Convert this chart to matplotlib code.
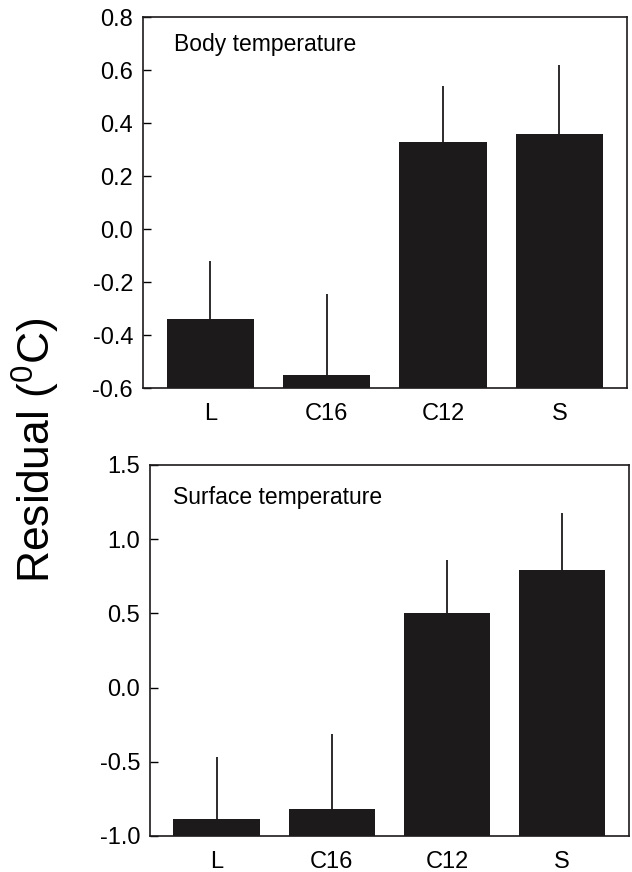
import matplotlib
matplotlib.use("Agg")
import matplotlib.pyplot as plt
import numpy as np

plt.rcParams['font.family'] = ['Liberation Sans', 'DejaVu Sans']
plt.rcParams['mathtext.fontset'] = 'custom'
plt.rcParams['mathtext.rm'] = 'Liberation Sans'
plt.rcParams['mathtext.it'] = 'Liberation Sans'

categories = ["L", "C16", "C12", "S"]

body_values = [-0.34, -0.55, 0.33, 0.36]
body_errors = [0.22, 0.305, 0.21, 0.26]

surface_values = [-0.885, -0.82, 0.50, 0.79]
surface_errors = [0.415, 0.51, 0.36, 0.385]

body_yticks = [-0.6, -0.4, -0.2, 0.0, 0.2, 0.4, 0.6, 0.8]
surface_yticks = [-1.0, -0.5, 0.0, 0.5, 1.0, 1.5]

BAR_COLOR = '#1d1a1b'

fig = plt.figure(figsize=(6.32, 8.72), dpi=100)
ax1 = fig.add_axes([0.226, 0.555, 0.766, 0.4255])
ax2 = fig.add_axes([0.237, 0.0413, 0.758, 0.4255])


def panel(ax, values, errors, yticks, label, lx, ly, fmt):
    base = yticks[0]
    x = np.arange(len(categories))
    vals = np.array(values)
    ax.bar(x, vals - base, bottom=base, width=0.75, color=BAR_COLOR, zorder=2)
    ax.errorbar(x, vals, yerr=[np.zeros(len(vals)), errors], fmt='none',
                ecolor=BAR_COLOR, elinewidth=1.3, capsize=0, zorder=1)
    ax.set_xlim(-0.58, 3.58)
    ax.set_ylim(yticks[0], yticks[-1])
    ax.set_yticks(yticks)
    ax.set_yticklabels([fmt.format(t) for t in yticks])
    ax.set_xticks(x)
    ax.set_xticklabels(categories)
    ax.tick_params(axis='y', direction='in', length=6, width=1.0, pad=7,
                   labelsize=17)
    ax.tick_params(axis='x', length=0, pad=11, labelsize=17)
    for s in ax.spines.values():
        s.set_linewidth(1.2)
        s.set_color('#1d1a1b')
    ax.text(lx, ly, label, transform=ax.transAxes, fontsize=16.5,
            va='center', ha='left')


panel(ax1, body_values, body_errors, body_yticks, "Body temperature",
      0.064, 0.925, "{:.1f}")
panel(ax2, surface_values, surface_errors, surface_yticks, "Surface temperature",
      0.048, 0.912, "{:.1f}")

fig.text(36 / 632, 0.484, r'Residual ($^{\rm 0}$C)', rotation=90, fontsize=32,
         ha='center', va='center')

fig.savefig("out.png", dpi=100)
